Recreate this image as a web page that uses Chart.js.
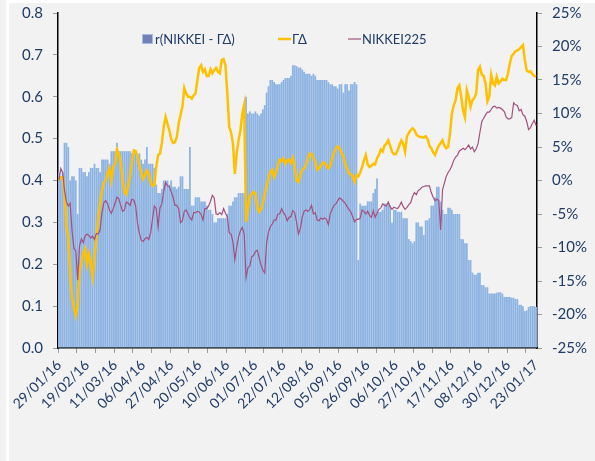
<!DOCTYPE html>
<html>
<head>
<meta charset="utf-8">
<script src="https://cdn.jsdelivr.net/npm/chart.js@4.4.1/dist/chart.umd.min.js"></script>
<style>
  html, body { margin: 0; padding: 0; background: #f2f2f2; }
  canvas { display: block; }
</style>
</head>
<body>
<canvas id="chart" width="595" height="461"></canvas>
<script>
// x-axis labels shown every 15 trading days
const tickLabels = ["29/01/16", "19/02/16", "11/03/16", "06/04/16", "27/04/16", "20/05/16",
    "10/06/16", "01/07/16", "22/07/16", "12/08/16", "05/09/16", "26/09/16",
    "06/10/16", "27/10/16", "17/11/16", "08/12/16", "30/12/16", "23/01/17"];

// r(NIKKEI - ΓΔ), left axis
const ratio = [
    0.42, 0.41, 0.42, 0.49, 0.49, 0.48, 0.40, 0.41, 0.41, 0.40,
    0.32, 0.43, 0.43, 0.42, 0.42, 0.41, 0.42, 0.43, 0.43, 0.44,
    0.43, 0.43, 0.42, 0.45, 0.45, 0.45, 0.45, 0.44, 0.47, 0.47,
    0.47, 0.49, 0.47, 0.47, 0.47, 0.47, 0.47, 0.47, 0.47, 0.465,
    0.47, 0.465, 0.46, 0.465, 0.45, 0.44, 0.45, 0.48, 0.44, 0.44,
    0.44, 0.43, 0.39, 0.37, 0.37, 0.38, 0.40, 0.40, 0.40, 0.39,
    0.40, 0.385, 0.385, 0.38, 0.385, 0.41, 0.41, 0.38, 0.38, 0.38,
    0.48, 0.34, 0.34, 0.36, 0.36, 0.36, 0.35, 0.35, 0.35, 0.34,
    0.33, 0.33, 0.32, 0.30, 0.30, 0.31, 0.31, 0.31, 0.31, 0.31,
    0.32, 0.34, 0.34, 0.35, 0.36, 0.36, 0.37, 0.37, 0.37, 0.37,
    0.60, 0.56, 0.565, 0.56, 0.56, 0.565, 0.56, 0.555, 0.56, 0.57,
    0.58, 0.61, 0.625, 0.64, 0.64, 0.635, 0.63, 0.63, 0.63, 0.635,
    0.64, 0.645, 0.645, 0.645, 0.65, 0.675, 0.675, 0.673, 0.67, 0.67,
    0.665, 0.66, 0.655, 0.655, 0.655, 0.65, 0.655, 0.65, 0.64, 0.64,
    0.64, 0.64, 0.64, 0.64, 0.635, 0.63, 0.63, 0.625, 0.625, 0.62,
    0.63, 0.63, 0.61, 0.63, 0.63, 0.615, 0.63, 0.63, 0.635, 0.63,
    0.21, 0.345, 0.34, 0.34, 0.34, 0.35, 0.35, 0.35, 0.37, 0.38,
    0.405, 0.325, 0.325, 0.33, 0.345, 0.345, 0.345, 0.34, 0.30, 0.33,
    0.33, 0.325, 0.325, 0.325, 0.31, 0.31, 0.31, 0.26, 0.255, 0.25,
    0.255, 0.30, 0.30, 0.29, 0.29, 0.27, 0.305, 0.305, 0.31, 0.34,
    0.34, 0.36, 0.385, 0.385, 0.35, 0.33, 0.32, 0.32, 0.335, 0.335,
    0.33, 0.32, 0.32, 0.32, 0.32, 0.26, 0.26, 0.25, 0.25, 0.21,
    0.21, 0.18, 0.175, 0.175, 0.18, 0.18, 0.15, 0.15, 0.145, 0.145,
    0.13, 0.13, 0.13, 0.13, 0.132, 0.133, 0.133, 0.13, 0.122, 0.122,
    0.122, 0.122, 0.12, 0.12, 0.117, 0.117, 0.103, 0.103, 0.10, 0.088,
    0.09, 0.098, 0.10, 0.10, 0.10, 0.098
];

// ΓΔ cumulative return (%), right axis
const gammaDelta = [
    0, 0.5, 0.5, -2, -7, -8.5, -14, -17.5, -19, -20.2,
    -18.5, -13.5, -12.3, -10.9, -10.2, -12.5, -11, -12.3, -14.4, -11.5,
    -8.5, -5.5, -3.5, -1.5, -0.3, 0, 1.1, 1.8, 0, 2,
    2.5, 4.6, 4, 2.7, 0, -1.8, -2.1, -0.8, 0.8, 2.8,
    4.5, 4.4, 3.6, 2.2, 1.2, 0.2, 0.8, 1.5, 1.0, -0.3,
    -0.8, -0.7, 2, 3.8, 4, 5.6, 8, 9.5, 8.5, 7.5,
    6.2, 5.6, 5.7, 6.5, 8.5, 9.8, 11, 13.8, 13, 12.5,
    12.5, 12.2, 12.7, 13, 15, 16.8, 17.2, 16.2, 16.6, 15.6,
    15.6, 16.6, 16, 16.5, 16.8, 16.2, 16.0, 18, 18.1, 17.2,
    13, 8, 7.2, 5.5, 1.0, 4, 6, 7.5, 10, 11.3,
    -6.2, -4, -2.4, -2, -1.7, -2, -4, -4.7, -4.3, -3.3,
    -2, -0.8, 0.3, 1.3, 1.6, 0.5, 1.2, 2.3, 3.1, 2.9,
    3.3, 2.5, 3, 3.1, 2.6, 3.4, 2, 0, -0.2, 0.8,
    1.6, 1.8, 2.4, 3.2, 4, 4, 3.3, 2.8, 1.6, 1.8,
    2.2, 2.7, 2.6, 2.2, 1.8, 2.2, 3.2, 4.2, 4.8, 5.1,
    4.8, 4.2, 3.6, 2.5, 1.8, 1.1, 0.9, 0.6, -0.2, 0.8,
    0.6, 1.2, 2, 3, 3.8, 2.4, 2.0, 2.2, 2.5, 2.4,
    3.3, 3.8, 4.6, 4.3, 5.2, 5.5, 6, 5.2, 4.3, 3.9,
    3.9, 4.5, 5.3, 6, 5.5, 4.3, 6.6, 7.1, 7.5, 7.8,
    7.5, 6.9, 6.6, 6.5, 6.5, 6.4, 6.6, 6.2, 5.2, 4.8,
    4.2, 3.8, 4.6, 5.2, 5.6, 6, 5.2, 4.8, 5.0, 7,
    10, 11.2, 12, 13.8, 14.2, 12.5, 10.4, 9.4, 13.5, 12.5,
    11, 12, 12.3, 13, 16.5, 17, 15.8, 15.6, 14.5, 11.8,
    12.5, 15.8, 14.5, 14.2, 15.5, 14.5, 14.8, 15.2, 15.0, 15,
    16, 17.5, 18.6, 18.9, 19.3, 19.4, 19.6, 19.9, 20.2, 18,
    16.4, 16.2, 16.3, 15.9, 15.6, 15.5
];

// NIKKEI225 cumulative return (%), right axis
const nikkei = [
    0, 1.8, 1.2, -1.5, -3.2, -3.8, -3.4, -7.5, -10.1, -10.5,
    -14.9, -9.8, -8.7, -9.3, -8.3, -8, -8.2, -8.6, -8.3, -8.8,
    -7.9, -8, -7.4, -4.8, -3.3, -3.0, -3.5, -4.4, -4.9, -4.2,
    -3.4, -2.5, -2.7, -3.7, -4.6, -4.4, -3.2, -3.4, -3.7, -2.8,
    -2.9, -3.8, -6.4, -7.9, -8.9, -9.1, -8.7, -8.5, -8.8, -7.8,
    -5.8, -3.8, -4.2, -6.9, -4.1, -3.5, -1.6, -0.3, -0.8, -0.9,
    -1.7, -2.5, -3.7, -3.7, -4.2, -6.3, -6.0, -4.6, -4.4, -5,
    -5.6, -5.9, -4.8, -4.8, -4.6, -4.7, -5.1, -5.9, -4.2, -4.2,
    -3.8, -3.1, -2.2, -2.6, -5, -5.1, -4.8, -5.1, -4.2, -4.9,
    -5.4, -7.8, -8, -9.2, -11.8, -10, -8.4, -7.5, -7, -8,
    -14.5, -13, -12.8, -11.4, -11.2, -10.6, -10.4, -11.5, -12.6, -13.4,
    -13.8, -9.3, -7.7, -6.9, -6.5, -5.9, -5.9, -5, -5, -4.2,
    -4.8, -5.2, -6, -5.5, -5.4, -4.5, -4.8, -6.2, -8, -7.2,
    -5.5, -4.6, -4.4, -4.6, -4.4, -3.7, -5, -4.8, -5.9, -6,
    -5.6, -5.8, -5.6, -5.8, -6.6, -5, -4.3, -3.7, -3.5, -3,
    -2.6, -2.8, -3.1, -3.4, -3.9, -4.3, -4.7, -5.4, -6.2, -5.8,
    -5.8, -5.6, -4.4, -4.6, -5, -4.6, -5.2, -5.5, -4.5, -5.5,
    -4.9, -4.3, -4.1, -3.5, -3.7, -3.8, -3.2, -3.9, -4.3, -4,
    -4.1, -4.2, -3.8, -3.2, -3.9, -4.3, -4, -3.6, -3.3, -2.4,
    -1.8, -2.1, -1.5, -1.3, -1, -0.9, -0.8, -0.8, -0.8, -1.8,
    -2.5, -3, -2.8, -3, -7.4, -1.4, -0.4, 0.6, 1.2, 1.6,
    2.2, 3, 3.5, 3.8, 4.4, 4.6, 4.8, 4.6, 4.9, 5.3,
    4.7, 5, 4.3, 4.7, 5.5, 7.2, 8.8, 9.3, 9.8, 10.2,
    10.2, 10.6, 11, 11.1, 10.8, 10.9, 10.8, 10.6, 10.3, 9.5,
    9.2, 9.2, 9.4, 11.6, 11.3, 11.2, 10.4, 10.6, 9.8, 9.6,
    8.8, 7.6, 7.9, 8.5, 9, 8.2
];

const categories = ratio.map((_, i) => i);

const NAVY = '#1f3b66';
const FONT = "Lato, 'Noto Sans', sans-serif";

// grey page with the thin white frame lines
const framePlugin = {
    id: 'frame',
    beforeDraw(chart) {
        const ctx = chart.ctx;
        ctx.save();
        ctx.fillStyle = '#f2f2f2';
        ctx.fillRect(0, 0, chart.width, chart.height);
        ctx.fillStyle = '#ffffff';
        ctx.fillRect(6, 0, 3, chart.height);
        ctx.fillRect(8, 0, chart.width - 8, 3);
        ctx.restore();
    }
};

// legend drawn inside the plot, like the Excel original
const legendPlugin = {
    id: 'insideLegend',
    afterDraw(chart) {
        const ctx = chart.ctx;
        const y = 39;
        ctx.save();
        ctx.font = '13px ' + FONT;
        ctx.textBaseline = 'middle';
        ctx.fillStyle = '#7180b6';
        ctx.fillRect(142, y - 5, 11, 10);
        ctx.strokeStyle = '#a3bde3';
        ctx.lineWidth = 1;
        ctx.strokeRect(142.5, y - 4.5, 10, 9);
        ctx.fillStyle = NAVY;
        ctx.fillText('r(NIKKEI - ΓΔ)', 155, y + 1);

        ctx.strokeStyle = '#ffc000';
        ctx.lineWidth = 2.5;
        ctx.beginPath();
        ctx.moveTo(278, y);
        ctx.lineTo(291, y);
        ctx.stroke();
        ctx.fillText('ΓΔ', 292, y + 1);

        ctx.strokeStyle = '#a4507f';
        ctx.lineWidth = 1.2;
        ctx.beginPath();
        ctx.moveTo(348, y);
        ctx.lineTo(361, y);
        ctx.stroke();
        ctx.fillText('NIKKEI225', 362, y + 1);
        ctx.restore();
    }
};

// fixed side widths; drop the label overflow so the plot top sits at the padding
const fitSide = scale => {
    scale.width = 58;
    scale.paddingTop = 0;
    scale.paddingBottom = 0;
};

new Chart(document.getElementById('chart'), {
    type: 'bar',
    data: {
        labels: categories,
        datasets: [{
            type: 'line',
            label: 'NIKKEI225',
            data: nikkei,
            yAxisID: 'y1',
            borderColor: '#a4507f',
            borderWidth: 1.2,
            pointRadius: 0,
            tension: 0,
            order: 0
        }, {
            type: 'line',
            label: 'ΓΔ',
            data: gammaDelta,
            yAxisID: 'y1',
            borderColor: '#ffc000',
            borderWidth: 2.5,
            pointRadius: 0,
            tension: 0,
            order: 1
        }, {
            label: 'r(NIKKEI - ΓΔ)',
            data: ratio,
            yAxisID: 'y',
            backgroundColor: '#8db3e2',
            barPercentage: 1,
            categoryPercentage: 0.95,
            order: 2
        }]
    },
    options: {
        responsive: false,
        animation: false,
        devicePixelRatio: 1,
        layout: { padding: { top: 13, left: 0, right: 0, bottom: 0 } },
        plugins: {
            legend: { display: false },
            tooltip: { enabled: false }
        },
        scales: {
            x: {
                grid: {
                    offset: true,
                    drawOnChartArea: false,
                    tickLength: 5,
                    color: ctx => (ctx.index % 10 === 0 ? '#9a9a9a' : 'rgba(0,0,0,0)')
                },
                border: { color: '#000', width: 1.5 },
                ticks: {
                    autoSkip: false,
                    maxRotation: 45,
                    minRotation: 45,
                    padding: 4,
                    color: NAVY,
                    font: { family: FONT, size: 14 },
                    callback: (v, i) => (i % 15 === 0 ? (tickLabels[i / 15] || '') : '')
                },
                afterFit: scale => { scale.height = 113; }
            },
            y: {
                position: 'left',
                min: 0,
                max: 0.8,
                grid: { drawOnChartArea: false, tickLength: 5, color: '#9a9a9a' },
                border: { color: '#000', width: 1.5 },
                ticks: {
                    stepSize: 0.1,
                    padding: 10,
                    color: NAVY,
                    font: { family: FONT, size: 15 },
                    callback: v => v.toFixed(1)
                },
                afterFit: fitSide
            },
            y1: {
                position: 'right',
                min: -25,
                max: 25,
                grid: { drawOnChartArea: false, tickLength: 5, color: '#9a9a9a' },
                border: { color: '#000', width: 1.5 },
                ticks: {
                    stepSize: 5,
                    padding: 10,
                    color: NAVY,
                    font: { family: FONT, size: 15 },
                    callback: v => v + '%'
                },
                afterFit: fitSide
            }
        }
    },
    plugins: [framePlugin, legendPlugin]
});
</script>
</body>
</html>
